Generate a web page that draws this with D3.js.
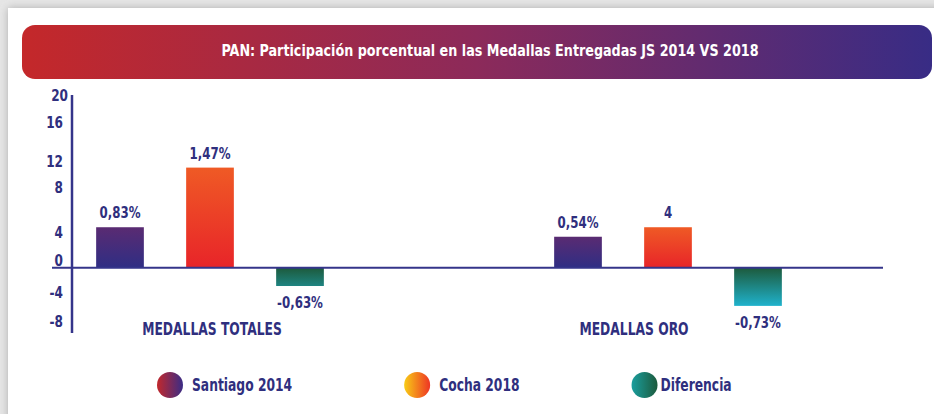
<!DOCTYPE html>
<html>
<head>
<meta charset="utf-8">
<script src="https://cdn.jsdelivr.net/npm/d3@7"></script>
<style>
  html, body { margin: 0; padding: 0; background: #fff; }
  svg { display: block; }
  text { font-family: "Liberation Sans Narrow", "DejaVu Sans Condensed", "Roboto Condensed", sans-serif; font-weight: bold; }
</style>
</head>
<body>
<svg id="chart"></svg>
<script>
// chart data
const title = "PAN: Participación porcentual en las Medallas Entregadas JS 2014 VS 2018";
const categories = ["MEDALLAS TOTALES", "MEDALLAS ORO"];
const series = ["Santiago 2014", "Cocha 2018", "Diferencia"];
// bar heights in axis units, one per category
const santiago = [4.7, 3.6];
const cocha = [11.6, 4.7];
const diferencia = [-2.1, -4.4];
// text printed over each bar
const santiagoLabels = ["0,83%", "0,54%"];
const cochaLabels = ["1,47%", "4"];
const diferenciaLabels = ["-0,63%", "-0,73%"];
// tick labels and where they sit on the axis (the original spaces them unevenly)
const tickLabels = ["20", "16", "12", "8", "4", "0", "-4", "-8"];
const tickAt = [20, 16.8, 12.3, 9.3, 4.1, 0.9, -2.8, -6.2];

const width = 934, height = 414;
const navy = "#2f2f7e";

const svg = d3.select("#chart").attr("width", width).attr("height", height);
const defs = svg.append("defs");

function linGrad(id, stops, horizontal) {
    let g = defs.append("linearGradient").attr("id", id)
        .attr("x1", 0).attr("y1", 0)
        .attr("x2", horizontal ? 1 : 0).attr("y2", horizontal ? 0 : 1);
    stops.forEach((c, i) => {
        g.append("stop").attr("offset", (i / (stops.length - 1) * 100) + "%").attr("stop-color", c);
    });
    return g;
}

// squeeze text to look like the condensed face of the original
function condense(sel, f) {
    sel.each(function () {
        let w = this.getComputedTextLength();
        d3.select(this).attr("textLength", w * f).attr("lengthAdjust", "spacingAndGlyphs");
    });
    return sel;
}

// card shadow on top and left edge
let shadow = defs.append("filter").attr("id", "shadow").attr("x", "-5%").attr("y", "-10%").attr("width", "110%").attr("height", "120%");
shadow.append("feDropShadow").attr("dx", 0).attr("dy", 0).attr("stdDeviation", 4).attr("flood-color", "#888").attr("flood-opacity", 0.6);

svg.append("rect").attr("width", width).attr("height", height).attr("fill", "#e6e6e6");
svg.append("rect").attr("x", 8).attr("y", 8).attr("width", width + 20).attr("height", height + 20)
    .attr("fill", "#fff").attr("filter", "url(#shadow)");

// title banner
linGrad("banner", ["#c4282a", "#8c2a5a", "#382c85"], true);
svg.append("rect")
    .attr("x", 22).attr("y", 25).attr("width", 910).attr("height", 54)
    .attr("rx", 13).attr("fill", "url(#banner)");
svg.append("text")
    .attr("x", 490).attr("y", 56)
    .attr("text-anchor", "middle")
    .attr("fill", "#fff")
    .style("font-size", "16px")
    .text(title)
    .call(condense, 0.885);

// scales
const y = d3.scaleLinear().domain([-8, 20]).range([337, 95]);
const x0 = d3.scalePoint().domain(categories).range([210, 668]);
const x1 = d3.scaleBand().domain(series).range([-135, 135]).paddingInner(0.47).paddingOuter(0.235);

// bar gradients
linGrad("g-santiago", ["#5a2b72", "#2f2e84"], false);
linGrad("g-cocha", ["#ef5a25", "#e82429"], false);
defs.append("linearGradient").attr("id", "g-diferencia")
    .attr("gradientUnits", "userSpaceOnUse")
    .attr("x1", 0).attr("x2", 0)
    .attr("y1", y(0)).attr("y2", y(d3.min(diferencia)))
    .selectAll("stop")
    .data(["#1d5a3c", "#1fb2cc"])
    .join("stop")
    .attr("offset", (d, i) => i * 100 + "%")
    .attr("stop-color", d => d);

// legend gradients
linGrad("l-santiago", ["#c2282c", "#3a2c86"], true);
linGrad("l-cocha", ["#f8cc16", "#ee3524"], true);
linGrad("l-diferencia", ["#1a9e9e", "#1c5a3c"], true);

const barData = [];
categories.forEach((c, i) => {
    barData.push({cat: c, s: series[0], v: santiago[i], label: santiagoLabels[i], fill: "url(#g-santiago)"});
    barData.push({cat: c, s: series[1], v: cocha[i], label: cochaLabels[i], fill: "url(#g-cocha)"});
    barData.push({cat: c, s: series[2], v: diferencia[i], label: diferenciaLabels[i], fill: "url(#g-diferencia)"});
});

// bars
svg.append("g").selectAll("rect")
    .data(barData)
    .join("rect")
    .attr("x", d => x0(d.cat) + x1(d.s))
    .attr("width", x1.bandwidth())
    .attr("y", d => y(Math.max(0, d.v)))
    .attr("height", d => Math.abs(y(d.v) - y(0)))
    .attr("fill", d => d.fill);

// value labels
svg.append("g").selectAll("text")
    .data(barData)
    .join("text")
    .attr("x", d => x0(d.cat) + x1(d.s) + x1.bandwidth() / 2)
    .attr("y", d => d.v >= 0 ? y(d.v) - 9 : y(d.v) + 22)
    .attr("text-anchor", "middle")
    .attr("fill", navy)
    .style("font-size", "16px")
    .text(d => d.label)
    .call(condense, 0.82);

// axes lines
svg.append("line")
    .attr("x1", 52).attr("x2", 883)
    .attr("y1", y(0)).attr("y2", y(0))
    .attr("stroke", "#35358a").attr("stroke-width", 2);
svg.append("line")
    .attr("x1", 72).attr("x2", 72)
    .attr("y1", y(20)).attr("y2", 333)
    .attr("stroke", "#35358a").attr("stroke-width", 2.5);

// tick labels
svg.append("g").selectAll("text")
    .data(tickLabels)
    .join("text")
    .attr("x", (d, i) => i === 0 ? 68 : 63)
    .attr("y", (d, i) => y(tickAt[i]))
    .attr("dy", "0.36em")
    .attr("text-anchor", "end")
    .attr("fill", navy)
    .style("font-size", "16px")
    .text(d => d)
    .call(condense, 0.84);

// category labels (the second one sits left of its group in the original)
svg.append("g").selectAll("text")
    .data(categories)
    .join("text")
    .attr("x", (d, i) => x0(d) + (i === 0 ? 2 : -34))
    .attr("y", 335)
    .attr("text-anchor", "middle")
    .attr("fill", navy)
    .style("font-size", "18px")
    .text(d => d)
    .call(condense, 0.76);

// legend, laid out left to right
const legendFills = ["url(#l-santiago)", "url(#l-cocha)", "url(#l-diferencia)"];
let lx = 170;
series.forEach((s, i) => {
    let g = svg.append("g").attr("transform", "translate(" + lx + ",385)");
    g.append("circle").attr("r", 13).attr("fill", legendFills[i]);
    let t = g.append("text")
        .attr("x", i === 2 ? 16 : 22)
        .attr("dy", "0.35em")
        .attr("fill", navy)
        .style("font-size", "18px")
        .text(s);
    let w = t.node().getComputedTextLength();
    t.call(condense, 0.76);
    lx += (i === 2 ? 16 : 22) + w * 0.76 + 125;
});
</script>
</body>
</html>
